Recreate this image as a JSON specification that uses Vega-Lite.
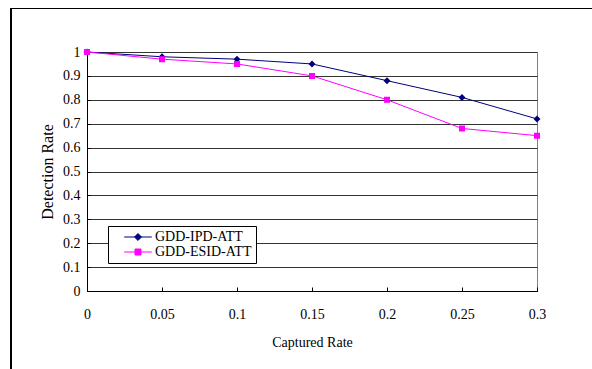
{
  "$schema": "https://vega.github.io/schema/vega-lite/v6.json",
  "width": 450,
  "height": 239,
  "autosize": "none",
  "padding": {"left": 87, "top": 52, "right": 55, "bottom": 78},
  "background": "white",
  "config": {
    "font": "Liberation Serif",
    "view": {"stroke": "#808080", "strokeWidth": 1},
    "axis": {
      "labelFont": "Liberation Serif",
      "titleFont": "Liberation Serif",
      "labelColor": "black",
      "titleColor": "black",
      "labelFontSize": 14,
      "titleFontSize": 14,
      "titleFontWeight": "normal",
      "domainColor": "black",
      "tickColor": "black",
      "gridColor": "#333333",
      "gridOpacity": 1,
      "labelOverlap": false,
      "labelFlush": false
    },
    "axisX": {"tickCount": 6, "grid": false, "tickSize": -4, "labelPadding": 20, "titlePadding": 14},
    "axisY": {"tickCount": 10, "grid": true, "tickSize": -3, "labelPadding": 10, "titlePadding": 7, "titleFontSize": 16},
    "legend": {
      "labelFont": "Liberation Serif",
      "labelFontSize": 14,
      "labelColor": "black",
      "symbolSize": 144,
      "symbolStrokeWidth": 1,
      "rowPadding": 1
    }
  },
  "data": {
    "values": [
      {"series": "GDD-IPD-ATT", "captured": 0, "detection": 1.0},
      {"series": "GDD-IPD-ATT", "captured": 0.05, "detection": 0.98},
      {"series": "GDD-IPD-ATT", "captured": 0.1, "detection": 0.97},
      {"series": "GDD-IPD-ATT", "captured": 0.15, "detection": 0.95},
      {"series": "GDD-IPD-ATT", "captured": 0.2, "detection": 0.88},
      {"series": "GDD-IPD-ATT", "captured": 0.25, "detection": 0.81},
      {"series": "GDD-IPD-ATT", "captured": 0.3, "detection": 0.72},
      {"series": "GDD-ESID-ATT", "captured": 0, "detection": 1.0},
      {"series": "GDD-ESID-ATT", "captured": 0.05, "detection": 0.97},
      {"series": "GDD-ESID-ATT", "captured": 0.1, "detection": 0.95},
      {"series": "GDD-ESID-ATT", "captured": 0.15, "detection": 0.9},
      {"series": "GDD-ESID-ATT", "captured": 0.2, "detection": 0.8},
      {"series": "GDD-ESID-ATT", "captured": 0.25, "detection": 0.68},
      {"series": "GDD-ESID-ATT", "captured": 0.3, "detection": 0.65}
    ]
  },
  "encoding": {
    "x": {
      "field": "captured", "type": "quantitative",
      "scale": {"domain": [0, 0.3], "nice": false, "zero": false},
      "axis": {"title": "Captured Rate", "format": "~g"}
    },
    "y": {
      "field": "detection", "type": "quantitative",
      "scale": {"domain": [0, 1], "nice": false, "zero": false},
      "axis": {"title": "Detection Rate", "format": "~g"}
    }
  },
  "layer": [
    {
      "mark": {"type": "line", "strokeWidth": 1},
      "encoding": {
        "color": {
          "field": "series", "type": "nominal",
          "scale": {"domain": ["GDD-IPD-ATT", "GDD-ESID-ATT"], "range": ["#000080", "#FF00FF"]},
          "legend": {
            "title": null,
            "orient": "none",
            "legendX": 21,
            "legendY": 174,
            "fillColor": "white",
            "strokeColor": "black",
            "padding": 4,
            "symbolOffset": 19,
            "labelOffset": 10,
            "encode": {
              "symbols": {"update": {"stroke": {"scale": "color", "field": "value"}, "strokeWidth": {"value": 1}}}
            }
          }
        }
      }
    },
    {
      "mark": {"type": "point", "filled": true, "size": 144, "opacity": 1},
      "encoding": {
        "color": {"field": "series", "type": "nominal"},
        "shape": {
          "field": "series", "type": "nominal",
          "scale": {"domain": ["GDD-IPD-ATT", "GDD-ESID-ATT"], "range": ["M-2.3,0H2.3M0,-0.58L0.58,0L0,0.58L-0.58,0Z", "M-2.3,0H2.3M-0.5,-0.5H0.5V0.5H-0.5Z"]},
          "legend": {
            "title": null,
            "orient": "none",
            "legendX": 21,
            "legendY": 174,
            "fillColor": "white",
            "strokeColor": "black",
            "padding": 4,
            "symbolOffset": 19,
            "labelOffset": 10
          }
        }
      }
    },
    {
      "mark": {"type": "rect", "filled": false, "stroke": "black", "strokeWidth": 1, "clip": false},
      "encoding": {
        "x": {"datum": -0.0508, "type": "quantitative"},
        "x2": {"datum": 0.36},
        "y": {"datum": 1.182, "type": "quantitative"},
        "y2": {"datum": -0.45}
      }
    }
  ]
}
